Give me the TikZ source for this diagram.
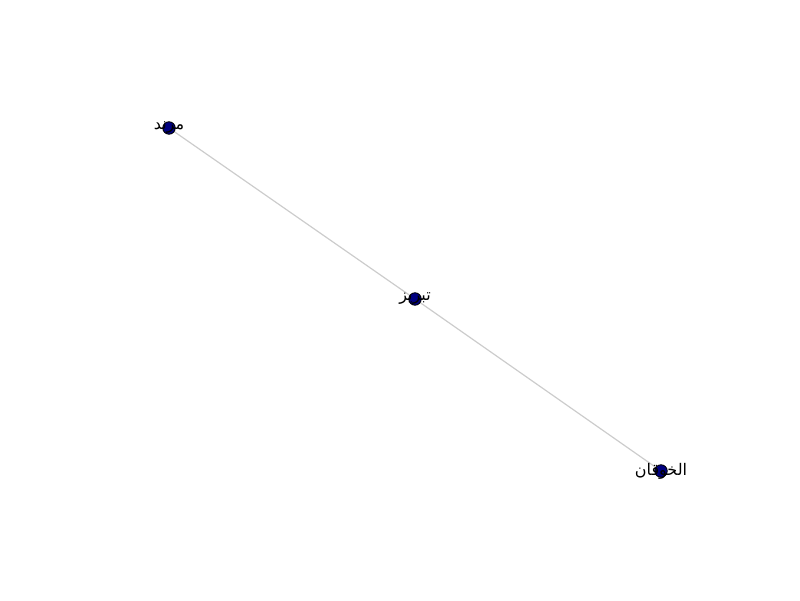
\documentclass[tikz,border=0pt]{standalone}
\usepackage{fontspec}
\TeXXeTstate=1
\newfontfamily\arabicfont[Script=Arabic]{DejaVu Sans}
\definecolor{nodeblue}{HTML}{000080}
\definecolor{edgegray}{HTML}{CCCCCC}
\tikzset{
  vert/.style={circle, draw=black, fill=nodeblue, line width=0.8pt, minimum size=12.5pt, inner sep=0pt},
  lbl/.style={font=\arabicfont\fontsize{16}{18}\selectfont, inner sep=0pt, text=black},
  edge/.style={draw=edgegray, line width=1.2pt}
}
\begin{document}
\begin{tikzpicture}[x=1pt,y=1pt]
\useasboundingbox (0,0) rectangle (800,600);
\coordinate (pa) at (169,472);
\coordinate (pb) at (415,301);
\coordinate (pc) at (661,129);
\draw[edge] (pa) -- (pb);
\draw[edge] (pb) -- (pc);
\node[vert] (a) at (pa) {};
\node[vert] (b) at (pb) {};
\node[vert] (c) at (pc) {};
\node[lbl] (la) at (pa) {\beginR مرند\endR};
\node[lbl] (lb) at (pb) {\beginR تبریز\endR};
\node[lbl] (lc) at (pc) {\beginR الخوقان\endR};
\end{tikzpicture}
\end{document}
